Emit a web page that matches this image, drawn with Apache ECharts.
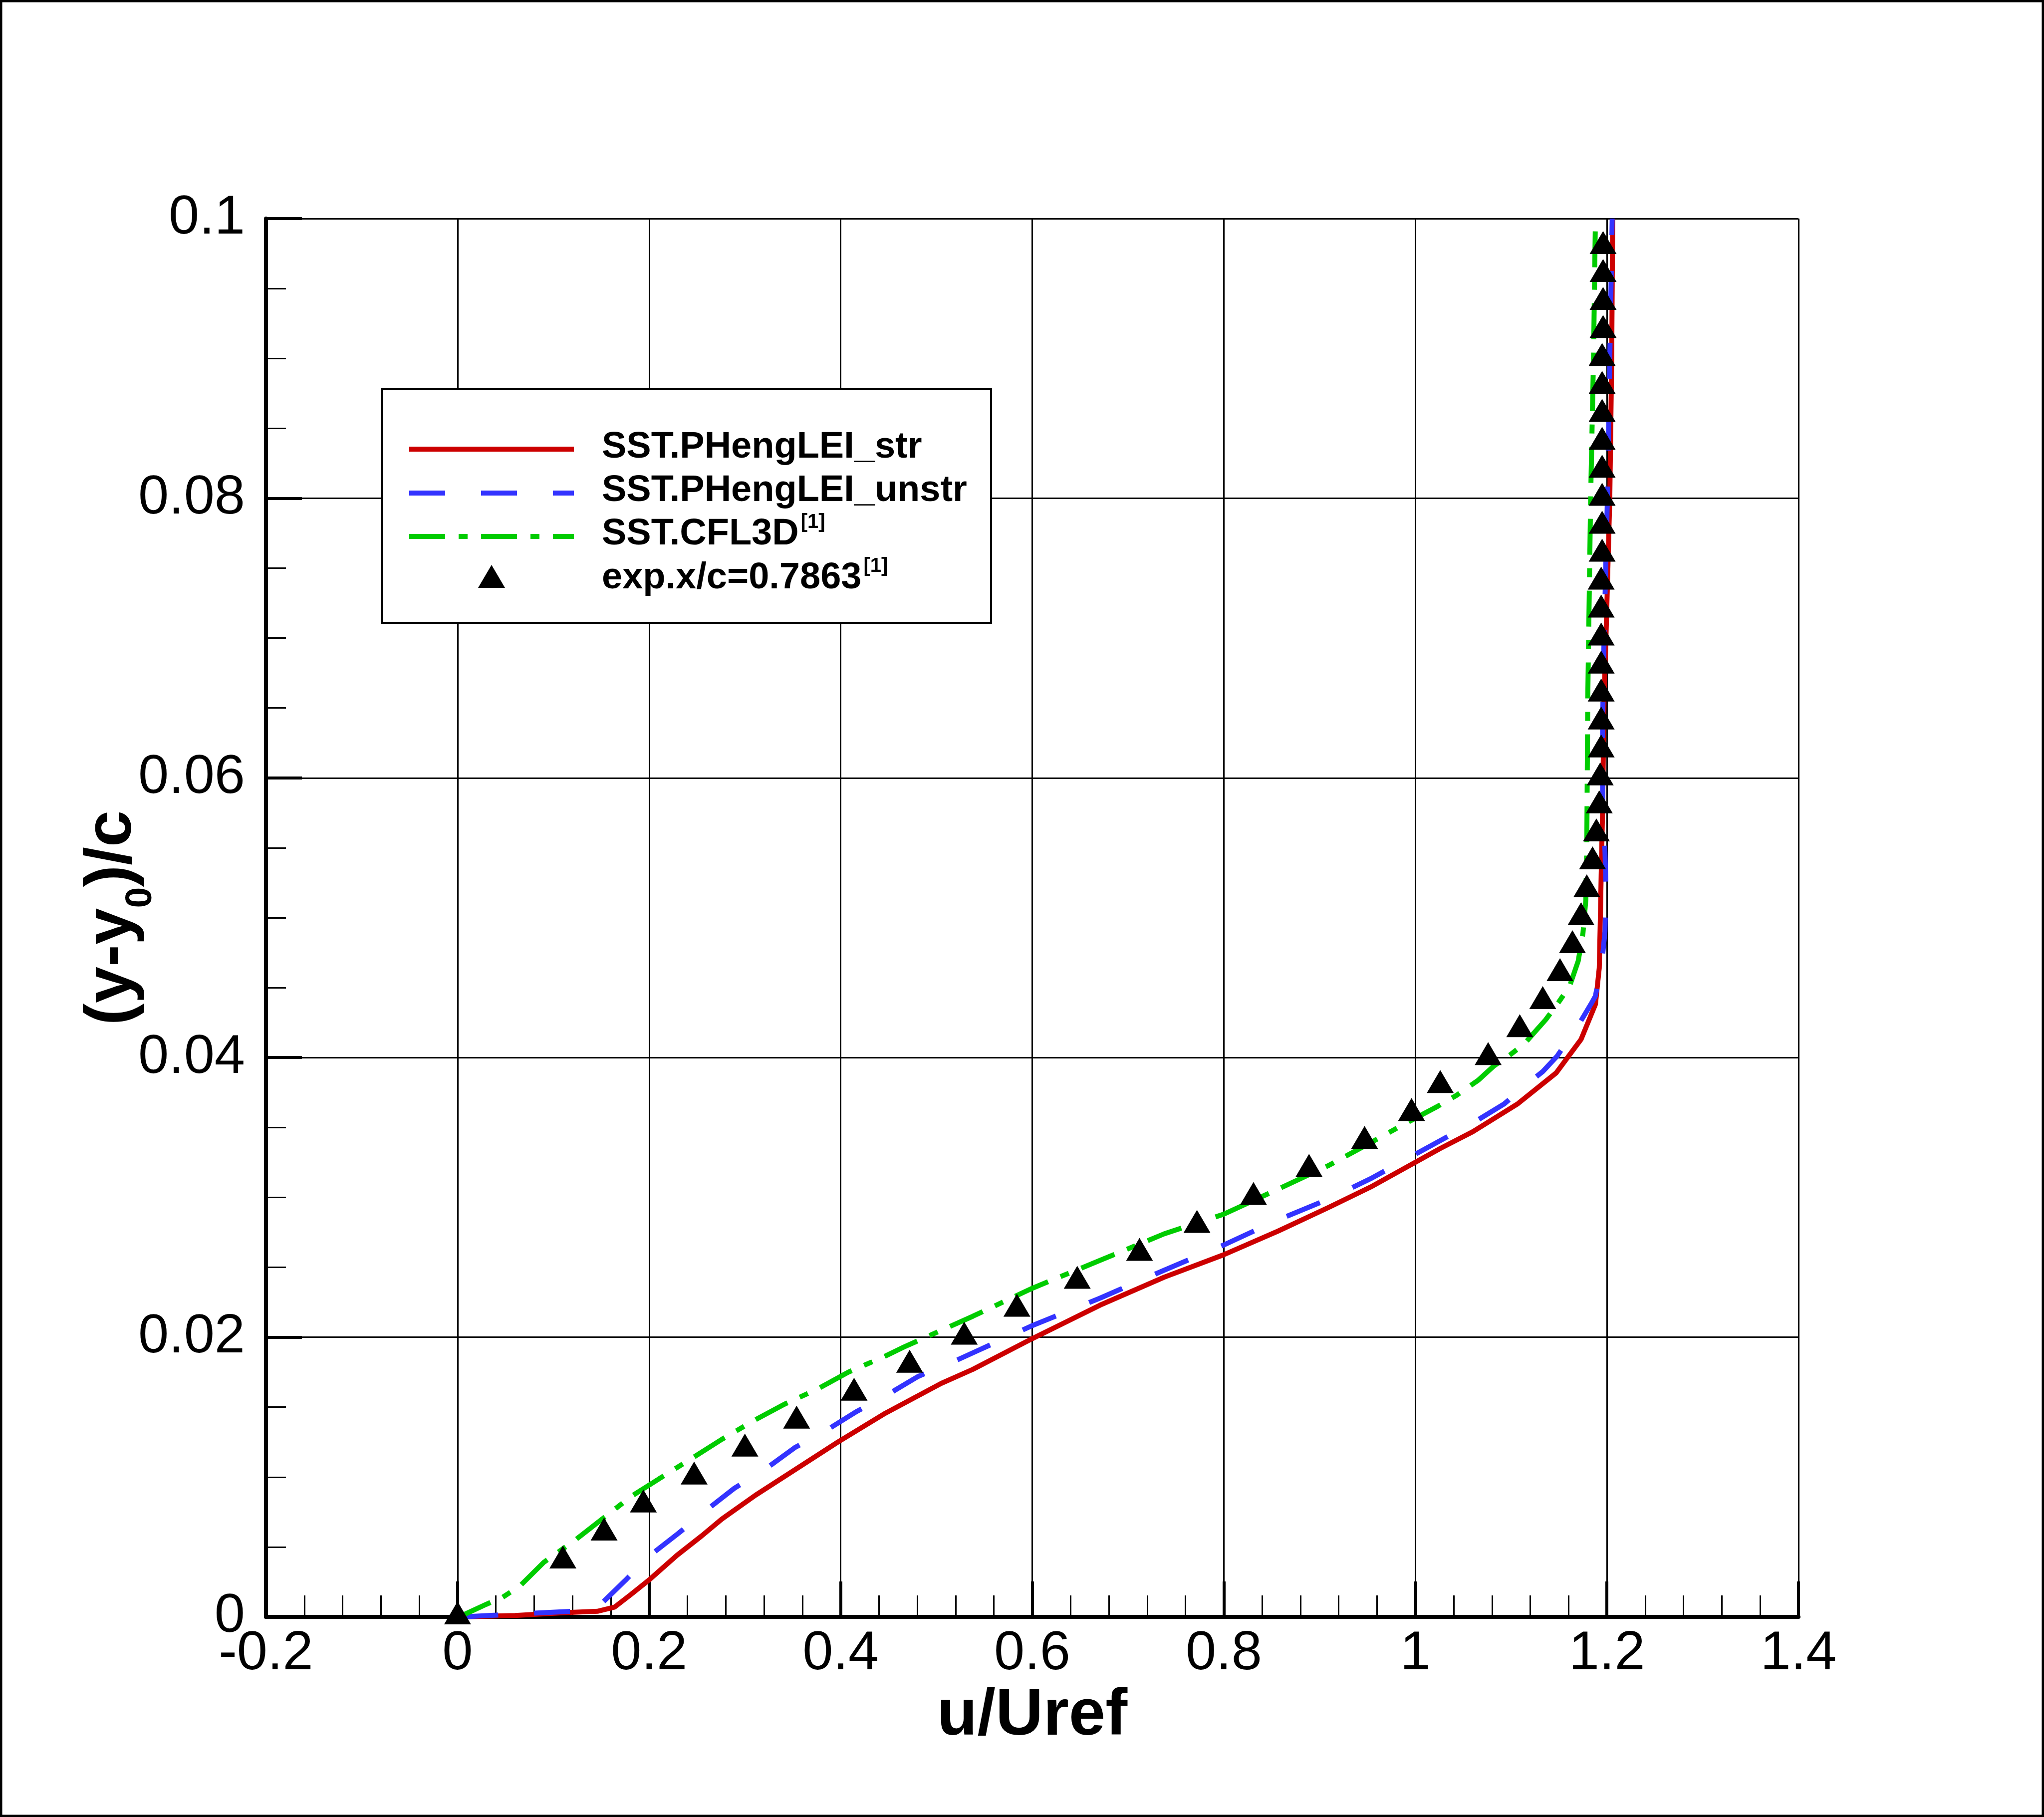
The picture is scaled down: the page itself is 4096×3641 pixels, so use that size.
<!DOCTYPE html>
<html>
<head>
<meta charset="utf-8">
<title>u/Uref profile</title>
<script src="https://cdn.jsdelivr.net/npm/echarts@6/dist/echarts.min.js"></script>
<style>
  html,body{margin:0;padding:0;background:#fff;}
  #chart{width:4096px;height:3641px;}
</style>
</head>
<body>
<div id="chart"></div>
<script>
// data
const seriesNames = ['SST.PHengLEI_str', 'SST.PHengLEI_unstr', 'SST.CFL3D', 'exp.x/c=0.7863'];

const redU = [0.005,0.06,0.112,0.146,0.164,0.181,0.201,0.229,0.255,0.276,0.311,0.354,0.397,0.445,0.505,0.538,0.600,0.671,0.738,0.800,0.857,0.910,0.955,1.026,1.060,1.107,1.147,1.173,1.188,1.192,1.193,1.194,1.1955,1.197,1.199,1.203,1.205,1.206];
const redY = [0,0.0001,0.0003,0.0004,0.0007,0.0016,0.0027,0.0044,0.0058,0.0070,0.0087,0.0106,0.0125,0.0145,0.0167,0.0177,0.0199,0.0223,0.0243,0.0259,0.0276,0.0293,0.0308,0.0335,0.0347,0.0367,0.0389,0.0413,0.0438,0.0464,0.0495,0.0530,0.0577,0.0657,0.0700,0.0800,0.0900,0.1000];

const blueU = [0.005,0.06,0.120,0.148,0.175,0.201,0.231,0.261,0.289,0.322,0.352,0.384,0.417,0.449,0.481,0.516,0.545,0.599,0.671,0.738,0.800,0.857,0.910,0.955,1.011,1.062,1.093,1.122,1.133,1.148,1.170,1.184,1.188,1.195,1.198,1.199,1.198,1.1955,1.1955,1.197,1.2005,1.203,1.2055];
const blueY = [0,0.0002,0.0004,0.0008,0.0026,0.0044,0.0060,0.0077,0.0092,0.0106,0.0121,0.0133,0.0147,0.0159,0.0172,0.0182,0.0191,0.0208,0.0228,0.0248,0.0266,0.0284,0.0299,0.0314,0.0335,0.0354,0.0367,0.0384,0.0390,0.0401,0.0423,0.0439,0.0444,0.0470,0.0490,0.0522,0.0547,0.0585,0.0640,0.0700,0.0800,0.0900,0.1000];

const greenU = [0.000,0.008,0.030,0.047,0.065,0.090,0.123,0.151,0.181,0.211,0.246,0.276,0.311,0.341,0.376,0.408,0.445,0.466,0.538,0.600,0.671,0.738,0.800,0.857,0.910,0.953,0.990,1.023,1.043,1.066,1.082,1.099,1.114,1.136,1.150,1.161,1.170,1.175,1.178,1.179,1.180,1.183,1.186,1.188];
const greenY = [0,0.0002,0.0009,0.0014,0.0022,0.0039,0.0055,0.0070,0.0086,0.0099,0.0114,0.0127,0.0141,0.0152,0.0163,0.0175,0.0186,0.0193,0.0215,0.0235,0.0255,0.0274,0.0288,0.0306,0.0323,0.0339,0.0353,0.0365,0.0373,0.0384,0.0394,0.0402,0.0410,0.0427,0.0440,0.0451,0.0469,0.0489,0.0513,0.0553,0.0657,0.0800,0.0900,0.1000];

const expU = [0,0.110,0.153,0.194,0.247,0.300,0.354,0.414,0.472,0.529,0.584,0.647,0.712,0.772,0.831,0.889,0.947,0.996,1.026,1.076,1.109,1.133,1.151,1.164,1.173,1.179,1.185,1.189,1.192,1.193,1.194,1.194,1.194,1.194,1.194,1.194,1.194,1.195,1.195,1.195,1.195,1.195,1.195,1.195,1.195,1.196,1.196,1.196,1.196];
const expY = [0,0.004,0.006,0.008,0.010,0.012,0.014,0.016,0.018,0.020,0.022,0.024,0.026,0.028,0.030,0.032,0.034,0.036,0.038,0.040,0.042,0.044,0.046,0.048,0.050,0.052,0.054,0.056,0.058,0.060,0.062,0.064,0.066,0.068,0.070,0.072,0.074,0.076,0.078,0.080,0.082,0.084,0.086,0.088,0.090,0.092,0.094,0.096,0.098];

const FONT = '"Liberation Sans", Arial, Helvetica, sans-serif';
const RED = '#cc0000', BLUE = '#3333ff', GREEN = '#00cc00';
const BLUE_DASH = [72, 72], GREEN_DASH = [72, 27, 18, 27];

function pairs(u, y){
    return u.map((v, i) => [v, y[i]]);
}

const chart = echarts.init(document.getElementById('chart'), null, {renderer:'canvas'});

const lineSeries = (name, u, y, color, dash) => ({
    name: name,
    type: 'line',
    data: pairs(u, y),
    symbol: 'none',
    smooth: false,
    z: 2,
    itemStyle: {color: color},
    lineStyle: {color: color, width: 10, type: dash},
    emphasis: {disabled: true}
});

//图例文字，带上标
const legendRich = {
    t: {fontFamily: FONT, fontSize: 74, fontWeight: 'bold', fill: '#000', lineHeight: 46},
    s: {fontFamily: FONT, fontSize: 40, fontWeight: 'bold', fill: '#000', lineHeight: 46, padding: [0, 0, 49, 4]}
};
const legendText = (y, text) => ({
    type: 'text', z: 5, silent: true, x: 1206, y: y,
    style: {text: text, rich: legendRich, align: 'left', verticalAlign: 'middle', fill: '#000'}
});
const legendLine = (y, color, dash) => ({
    type: 'line', z: 5, silent: true,
    shape: {x1: 820, y1: y, x2: 1150, y2: y},
    style: {stroke: color, lineWidth: 10, lineDash: dash}
});

const option = {
    animation: false,
    backgroundColor: '#fff',
    grid: {left: 533, top: 438, width: 3071, height: 2802, outerBoundsMode: 'none'},
    xAxis: {
        type: 'value', min: -0.2, max: 1.4, interval: 0.2,
        name: 'u/Uref', nameLocation: 'middle', nameGap: 135, nameMoveOverlap: false,
        nameTextStyle: {fontFamily: FONT, fontSize: 132, fontWeight: 'bold', color: '#000', lineHeight: 130},
        axisLine: {show: true, onZero: false, lineStyle: {color: '#000', width: 8}},
        axisTick: {show: true, inside: true, length: 71, lineStyle: {color: '#000', width: 6}},
        minorTick: {show: true, splitNumber: 5, length: 43, lineStyle: {color: '#000', width: 3}},
        splitLine: {show: true, lineStyle: {color: '#000', width: 3}},
        axisLabel: {
            margin: 20, fontSize: 110, fontFamily: FONT, color: '#000',
            formatter: v => String(+v.toFixed(1))
        }
    },
    yAxis: {
        type: 'value', min: 0, max: 0.1, interval: 0.02,
        name: '{a|(y-y}{b|0}{a|)/c}', nameLocation: 'middle', nameGap: 242, nameMoveOverlap: false,
        nameTextStyle: {
            color: '#000', lineHeight: 130,
            rich: {
                a: {fontFamily: FONT, fontSize: 132, fontWeight: 'bold', color: '#000', lineHeight: 130},
                b: {fontFamily: FONT, fontSize: 75, fontWeight: 'bold', color: '#000', lineHeight: 130, padding: [112, 0, 0, 0]}
            }
        },
        axisLine: {show: true, onZero: false, lineStyle: {color: '#000', width: 8}},
        axisTick: {show: true, inside: true, length: 72, lineStyle: {color: '#000', width: 6}},
        minorTick: {show: true, splitNumber: 4, length: 40, lineStyle: {color: '#000', width: 3}},
        splitLine: {show: true, lineStyle: {color: '#000', width: 3}},
        axisLabel: {
            margin: 42, fontSize: 110, fontFamily: FONT, color: '#000',
            formatter: v => String(+v.toFixed(2))
        }
    },
    graphic: [
        {type: 'rect', z: 3, silent: true,
         shape: {x: 766, y: 779, width: 1220, height: 469},
         style: {fill: '#fff', stroke: '#000', lineWidth: 4}},
        legendLine(900, RED, null),
        legendLine(988, BLUE, BLUE_DASH),
        legendLine(1075, GREEN, GREEN_DASH),
        {type: 'polygon', z: 5, silent: true,
         shape: {points: [[985, 1132], [958, 1178], [1012, 1178]]},
         style: {fill: '#000'}},
        legendText(897, '{t|' + seriesNames[0] + '}'),
        legendText(984, '{t|' + seriesNames[1] + '}'),
        legendText(1071, '{t|' + seriesNames[2] + '}{s|[1]}'),
        legendText(1159, '{t|' + seriesNames[3] + '}{s|[1]}'),
        {type: 'rect', z: 10, silent: true,
         shape: {x: 2, y: 2, width: 4092, height: 3637},
         style: {fill: 'none', stroke: '#000', lineWidth: 5}}
    ],
    series: [
        lineSeries(seriesNames[0], redU, redY, RED, 'solid'),
        lineSeries(seriesNames[1], blueU, blueY, BLUE, BLUE_DASH),
        lineSeries(seriesNames[2], greenU, greenY, GREEN, GREEN_DASH),
        {
            name: seriesNames[3],
            type: 'scatter',
            data: pairs(expU, expY),
            symbol: 'triangle',
            symbolSize: [54, 46],
            symbolOffset: [0, -8],
            clip: false,
            z: 3,
            itemStyle: {color: '#000', opacity: 1},
            emphasis: {disabled: true}
        }
    ]
};

chart.setOption(option);
</script>
</body>
</html>
